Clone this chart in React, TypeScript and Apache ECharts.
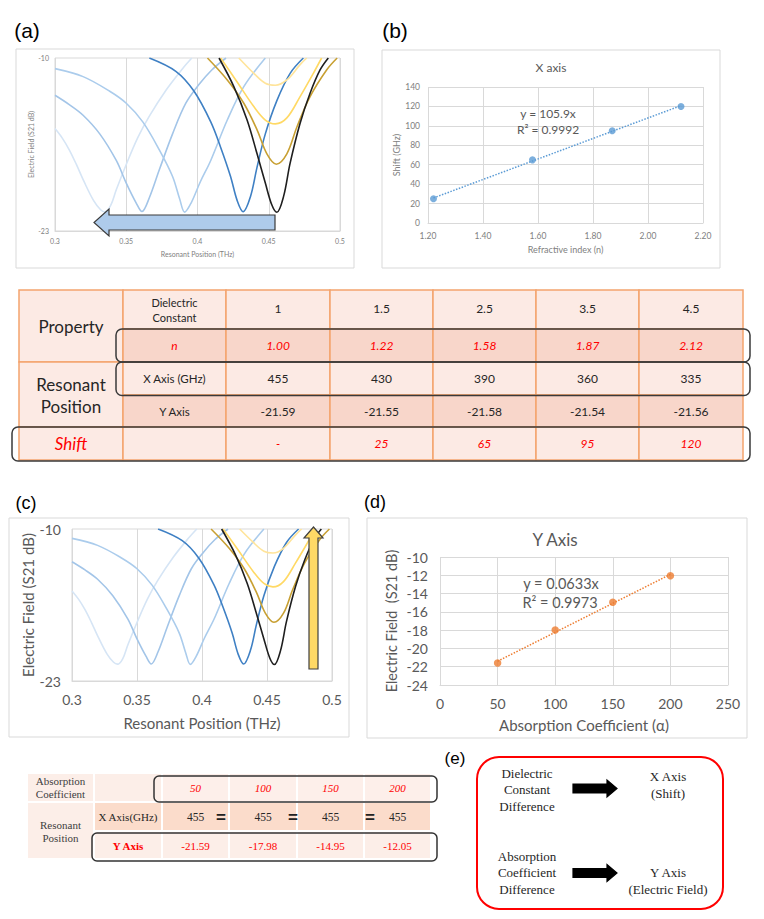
import React, { useEffect, useRef } from "react";
import * as echarts from "echarts";

// ---------- (a) / (c) resonance curves : [frequency THz, S21 dB] ----------
const curveL1 = [[0.300,-15.3],[0.305,-16.0],[0.310,-16.9],[0.315,-18.0],[0.320,-19.2],[0.327,-20.7],[0.332,-21.4],[0.335,-21.56],[0.339,-21.1],[0.343,-19.9],[0.350,-18.0],[0.358,-16.0],[0.366,-14.4],[0.378,-12.4],[0.3895,-10.8],[0.396,-10.0]];
const curveL2 = [[0.300,-12.8],[0.310,-13.5],[0.3197,-14.3],[0.3314,-15.7],[0.343,-17.7],[0.350,-19.4],[0.357,-20.9],[0.361,-21.54],[0.3662,-20.5],[0.3732,-18.4],[0.3825,-15.7],[0.3918,-13.4],[0.401,-12.0],[0.410,-10.9],[0.420,-10.0]];
const curveL3 = [[0.300,-10.8],[0.3197,-11.4],[0.3384,-12.5],[0.350,-13.4],[0.3616,-14.8],[0.3732,-16.9],[0.3825,-18.9],[0.3875,-20.6],[0.391,-21.58],[0.3955,-20.9],[0.402,-19.3],[0.4093,-17.7],[0.4209,-14.66],[0.4325,-12.15],[0.4476,-10.0]];
const curveD = [[0.3662,-10.0],[0.3848,-11.0],[0.3976,-12.5],[0.4093,-14.8],[0.4162,-16.7],[0.4232,-18.9],[0.4278,-20.7],[0.432,-21.55],[0.4372,-20.4],[0.4418,-18.2],[0.4476,-15.7],[0.4557,-13.2],[0.465,-11.15],[0.4743,-10.0]];
const curveK = [[0.4151,-10.0],[0.4255,-12.15],[0.4348,-14.66],[0.4418,-17.2],[0.4476,-19.4],[0.4522,-21.05],[0.4557,-21.59],[0.4604,-20.4],[0.465,-17.9],[0.472,-14.9],[0.479,-12.65],[0.486,-10.9],[0.4918,-10.0]];
const curveG1 = [[0.407,-10.0],[0.4209,-11.65],[0.4325,-13.4],[0.4418,-15.4],[0.4487,-17.2],[0.4553,-17.98],[0.4627,-17.2],[0.4697,-15.2],[0.479,-12.9],[0.4906,-10.9],[0.498,-10.0]];
const curveG2 = [[0.4162,-10.0],[0.4278,-11.8],[0.4395,-13.65],[0.4476,-14.66],[0.4546,-14.95],[0.4627,-14.5],[0.472,-12.9],[0.4813,-11.15],[0.4871,-10.0]];
const curveG3 = [[0.429,-10.0],[0.4395,-11.15],[0.4476,-11.9],[0.4546,-12.05],[0.4627,-11.65],[0.472,-10.5],[0.4766,-10.0]];

const curves = [
  { data: curveL1, color: "#D6E5F5" },
  { data: curveL2, color: "#A3C5E8" },
  { data: curveL3, color: "#ABCCEC" },
  { data: curveD, color: "#3F80C4" },
  { data: curveG3, color: "#FFE49A" },
  { data: curveG2, color: "#FFD965" },
  { data: curveG1, color: "#C8A033" },
  { data: curveK, color: "#1F1F1F" },
];

// ---------- main table / (b) ----------
const dielectricConstants = ["1", "1.5", "2.5", "3.5", "4.5"];
const refractiveIndex = [1.0, 1.22, 1.58, 1.87, 2.12];
const resonantXGHz = [455, 430, 390, 360, 335];
const resonantYdB = [-21.59, -21.55, -21.58, -21.54, -21.56];
const shiftGHz: (number | null)[] = [null, 25, 65, 95, 120];
const shiftTrend = [[1.22, 25.8], [2.12, 120.8]];

// ---------- bottom table / (d) ----------
const absorption = [50, 100, 150, 200];
const fieldDb = [-21.59, -17.98, -14.95, -12.05];
const fieldXGHz = [455, 455, 455, 455];
const fieldTrend = [[50, -21.4], [200, -11.9]];

const FONT = "Lato, 'Open Sans', sans-serif";
const SERIF = "'Liberation Serif', 'DejaVu Serif', serif";
const ARIAL = "'Liberation Sans', Arial, sans-serif";

type TO = { size?: number; fill?: string; family?: string; italic?: boolean; bold?: boolean; align?: string; lh?: number; z?: number };
function txt(x: number, y: number, text: string, o: TO = {}) {
  return {
    type: "text", x, y, z: o.z ?? 50,
    style: {
      text, fill: o.fill ?? "#262626", fontSize: o.size ?? 12, fontFamily: o.family ?? FONT,
      fontStyle: o.italic ? "italic" : "normal", fontWeight: o.bold ? "bold" : "normal",
      align: o.align ?? "center", verticalAlign: "middle", lineHeight: o.lh,
    },
  };
}
type RO = { fill?: string; stroke?: string; lw?: number; r?: number; z?: number };
function rect(x: number, y: number, w: number, h: number, o: RO = {}) {
  return {
    type: "rect", z: o.z ?? 10,
    shape: { x, y, width: w, height: h, r: o.r ?? 0 },
    style: { fill: o.fill ?? "none", stroke: o.stroke ?? "none", lineWidth: o.lw ?? 1 },
  };
}
function poly(points: number[][], fill: string, stroke: string, z = 100) {
  return { type: "polygon", z, shape: { points }, style: { fill, stroke, lineWidth: 1.2 } };
}

function buildGraphics() {
  const g: any[] = [];
  // panel labels
  g.push(txt(27, 30, "(a)", { size: 21, family: ARIAL, fill: "#000" }));
  g.push(txt(395, 30, "(b)", { size: 21, family: ARIAL, fill: "#000" }));
  g.push(txt(26, 503, "(c)", { size: 18, family: ARIAL, fill: "#000" }));
  g.push(txt(375, 502, "(d)", { size: 18, family: ARIAL, fill: "#000" }));
  g.push(txt(455, 758, "(e)", { size: 17, family: ARIAL, fill: "#000" }));
  // chart boxes
  g.push(rect(16, 49, 338, 219, { stroke: "#D9D9D9" }));
  g.push(rect(382, 50, 338, 218, { stroke: "#D9D9D9" }));
  g.push(rect(9, 518, 340, 219, { stroke: "#D9D9D9" }));
  g.push(rect(367, 518, 380, 220, { stroke: "#D9D9D9" }));
  // chart titles / trend annotations
  g.push(txt(551, 67, "X axis", { size: 12, fill: "#595959" }));
  g.push(txt(548, 113, "y = 105.9x", { size: 12, fill: "#595959" }));
  g.push(txt(548, 129, "R² = 0.9992", { size: 12, fill: "#595959" }));
  g.push(txt(555, 539, "Y Axis", { size: 17, fill: "#595959" }));
  g.push(txt(561, 583, "y = 0.0633x", { size: 14.5, fill: "#595959" }));
  g.push(txt(560, 602, "R² = 0.9973", { size: 14.5, fill: "#595959" }));
  // arrows
  g.push(poly([[275, 215], [109, 215], [109, 209], [94, 222.5], [109, 236], [109, 230], [275, 230]], "#AECBEB", "#3B3B3B"));
  g.push(poly([[309, 669], [309, 538], [304, 538], [313.5, 527], [323, 538], [318, 538], [318, 669]], "#FFD966", "#404040"));

  // ---- main table ----
  const colX = [19, 123, 226, 330, 433, 536, 639, 743];
  const rowY = [290, 329, 362, 395, 427, 460];
  const light = "#FCEAE4", dark = "#F8D6CA", border = "#F3A46E";
  g.push(rect(colX[0], rowY[0], colX[1] - colX[0], rowY[2] - rowY[0], { fill: light, stroke: border, lw: 1.5 }));
  g.push(rect(colX[0], rowY[2], colX[1] - colX[0], rowY[4] - rowY[2], { fill: light, stroke: border, lw: 1.5 }));
  g.push(rect(colX[0], rowY[4], colX[1] - colX[0], rowY[5] - rowY[4], { fill: light, stroke: border, lw: 1.5 }));
  for (let c = 1; c < 7; c++) {
    for (let rI = 0; rI < 5; rI++) {
      g.push(rect(colX[c], rowY[rI], colX[c + 1] - colX[c], rowY[rI + 1] - rowY[rI], {
        fill: rI === 1 || rI === 3 ? dark : light, stroke: border, lw: 1.5,
      }));
    }
  }
  const cx = (c: number) => (colX[c] + colX[c + 1]) / 2;
  const cy = (r: number) => (rowY[r] + rowY[r + 1]) / 2;
  const RED = "#FF0000";
  g.push(txt(cx(0), 326, "Property", { size: 17 }));
  g.push(txt(cx(0), 395, "Resonant\nPosition", { size: 17, lh: 22 }));
  g.push(txt(cx(0), cy(4), "Shift", { size: 17, italic: true, fill: RED }));
  g.push(txt(cx(1), 310, "Dielectric\nConstant", { size: 11, lh: 15 }));
  g.push(txt(cx(1), cy(1), "n", { size: 12, italic: true, fill: RED }));
  g.push(txt(cx(1), cy(2), "X Axis (GHz)", { size: 11.5 }));
  g.push(txt(cx(1), cy(3), "Y Axis", { size: 11.5 }));
  dielectricConstants.forEach((v, i) => {
    const c = i + 2;
    g.push(txt(cx(c), cy(0) - 1, v, { size: 12 }));
    g.push(txt(cx(c), cy(1), refractiveIndex[i].toFixed(2), { size: 12, italic: true, fill: RED }));
    g.push(txt(cx(c), cy(2), String(resonantXGHz[i]), { size: 12 }));
    g.push(txt(cx(c), cy(3), resonantYdB[i].toFixed(2), { size: 12 }));
    const s = shiftGHz[i];
    g.push(txt(cx(c), cy(4), s === null ? "-" : String(s), { size: 12, italic: true, fill: RED }));
  });
  g.push(rect(116, 329, 634, 33, { r: 6, stroke: "#3A3A3A", lw: 1.5, z: 20 }));
  g.push(rect(116, 362, 634, 33.5, { r: 6, stroke: "#3A3A3A", lw: 1.5, z: 20 }));
  g.push(rect(12, 427, 738, 34, { r: 6, stroke: "#3A3A3A", lw: 1.5, z: 20 }));

  // ---- bottom table ----
  const bx = [27, 94, 162, 229, 297, 364, 431];
  const br = [[774, 801], [803, 830], [832, 858]];
  const pLight = "#FCEEE8", pLight2 = "#FDEFEA", pDark = "#FBDCCB";
  const cell = (c0: number, c1: number, r0: number, r1: number, fill: string) =>
    g.push(rect(bx[c0] + 1, br[r0][0], bx[c1] - bx[c0] - 2, br[r1][1] - br[r0][0], { fill }));
  cell(0, 1, 0, 0, pLight);
  cell(1, 2, 0, 0, pLight);
  for (let c = 2; c < 6; c++) cell(c, c + 1, 0, 0, pLight2);
  cell(0, 1, 1, 2, pLight);
  for (let c = 1; c < 6; c++) { cell(c, c + 1, 1, 1, pDark); cell(c, c + 1, 2, 2, pLight); }
  const bcx = (c: number) => (bx[c] + bx[c + 1]) / 2;
  g.push(txt(bcx(0), 787.5, "Absorption\nCoefficient", { size: 11, lh: 13, family: SERIF, fill: "#404040" }));
  g.push(txt(bcx(0), 831, "Resonant\nPosition", { size: 11, lh: 13, family: SERIF, fill: "#404040" }));
  g.push(txt(bcx(1), 817, "X Axis(GHz)", { size: 11, family: SERIF }));
  g.push(txt(bcx(1), 846, "Y Axis", { size: 11, family: SERIF, fill: RED, bold: true }));
  absorption.forEach((a, i) => {
    const c = i + 2;
    g.push(txt(bcx(c), 788, String(a), { size: 11, family: SERIF, italic: true, fill: RED }));
    g.push(txt(bcx(c), 817, String(fieldXGHz[i]), { size: 11.5, family: SERIF }));
    g.push(txt(bcx(c), 846, fieldDb[i].toFixed(2), { size: 11, family: SERIF, fill: RED }));
  });
  [221, 293, 370].forEach((x) => g.push(txt(x, 817, "=", { size: 17, bold: true, fill: "#222", family: ARIAL })));
  g.push(rect(154, 776, 283, 26, { r: 5, stroke: "#333", lw: 1.5, z: 20 }));
  g.push(rect(92, 833, 345, 28, { r: 5, stroke: "#333", lw: 1.5, z: 20 }));

  // ---- (e) ----
  g.push(rect(477, 757, 246, 152, { r: 22, stroke: "#FF0000", lw: 2 }));
  g.push(txt(527, 789.5, "Dielectric\nConstant\nDifference", { size: 13, lh: 16.5, family: SERIF }));
  g.push(txt(668, 785, "X Axis\n(Shift)", { size: 13, lh: 16.5, family: SERIF }));
  g.push(txt(527, 872.5, "Absorption\nCoefficient\nDifference", { size: 13, lh: 16.5, family: SERIF }));
  g.push(txt(668, 881, "Y Axis\n(Electric Field)", { size: 13, lh: 16.5, family: SERIF }));
  g.push(poly([[573, 784], [607, 784], [607, 780], [617, 788.5], [607, 797], [607, 793], [573, 793]], "#000", "#000"));
  g.push(poly([[573, 868.5], [607, 868.5], [607, 864.5], [617, 873], [607, 881.5], [607, 877.5], [573, 877.5]], "#000", "#000"));
  return g;
}

function curveAxes(grid: number, fs: number, titleFs: number, color: string, labelMargin: number, gapX: number, gapY: number) {
  const xAxis = {
    type: "value", gridIndex: grid, min: 0.3, max: 0.5, interval: 0.05,
    axisLine: { show: true, lineStyle: { color: "#D9D9D9" } }, axisTick: { show: false },
    axisLabel: { fontSize: fs, color, margin: labelMargin, fontFamily: FONT },
    splitLine: { show: true, lineStyle: { color: "#D9D9D9" } },
    name: "Resonant Position (THz)", nameLocation: "middle", nameGap: gapX,
    nameTextStyle: { fontSize: titleFs, color, fontFamily: FONT },
  };
  const yAxis = {
    type: "value", gridIndex: grid, min: -23, max: -10,
    axisLine: { show: false }, axisTick: { show: false, customValues: [-23, -10] },
    axisLabel: {
      fontSize: fs, color, margin: labelMargin, fontFamily: FONT, customValues: [-23, -10],
      formatter: (v: number) => (v === -10 || v === -23 ? String(v) : ""),
    },
    splitLine: { show: false },
    name: "Electric Field (S21 dB)", nameLocation: "middle", nameGap: gapY,
    nameTextStyle: { fontSize: titleFs, color, fontFamily: FONT },
  };
  return { xAxis, yAxis };
}

export default function App() {
  const ref = useRef<HTMLDivElement>(null);
  useEffect(() => {
    if (!ref.current) return;
    const chart = echarts.init(ref.current, undefined, { renderer: "svg" });
    const a = curveAxes(0, 7, 7, "#808080", 6, 19, 19);
    const c = curveAxes(2, 14, 15, "#595959", 11, 34, 34);
    const gridStyle = { show: true, borderColor: "#D9D9D9", borderWidth: 1, backgroundColor: "transparent" };

    const series: any[] = [];
    [0, 2].forEach((ax) => {
      curves.forEach((cv) => {
        series.push({
          type: "line", xAxisIndex: ax, yAxisIndex: ax, data: cv.data, smooth: 0.35,
          symbol: "none", showSymbol: false, clip: true,
          lineStyle: { color: cv.color, width: 1.6 }, itemStyle: { color: cv.color },
        });
      });
    });
    series.push({
      type: "line", xAxisIndex: 1, yAxisIndex: 1, data: shiftTrend, symbol: "none",
      lineStyle: { color: "#5B9BD5", width: 1.5, type: "dotted" },
    });
    series.push({
      type: "scatter", xAxisIndex: 1, yAxisIndex: 1, symbolSize: 7,
      data: refractiveIndex.map((n, i) => [n, shiftGHz[i]]).filter((p) => p[1] !== null),
      itemStyle: { color: "#5B9BD5" },
    });
    series.push({
      type: "line", xAxisIndex: 3, yAxisIndex: 3, data: fieldTrend, symbol: "none",
      lineStyle: { color: "#ED7D31", width: 1.5, type: "dotted" },
    });
    series.push({
      type: "scatter", xAxisIndex: 3, yAxisIndex: 3, symbolSize: 7.5,
      data: absorption.map((v, i) => [v, fieldDb[i]]),
      itemStyle: { color: "#ED7D31" },
    });

    chart.setOption({
      animation: false,
      textStyle: { fontFamily: FONT },
      grid: [
        { left: 55, top: 58, width: 285, height: 173, ...gridStyle },
        { left: 428, top: 87, width: 275, height: 136, show: false },
        { left: 72, top: 529, width: 260, height: 152, ...gridStyle },
        { left: 440, top: 557, width: 288, height: 128, show: false },
      ],
      xAxis: [
        a.xAxis,
        {
          type: "value", gridIndex: 1, min: 1.2, max: 2.2, interval: 0.2,
          axisLine: { lineStyle: { color: "#D9D9D9" } }, axisTick: { show: false },
          axisLabel: { fontSize: 8.5, color: "#808080", margin: 8, formatter: (v: number) => v.toFixed(2) },
          splitLine: { show: true, lineStyle: { color: "#D9D9D9" } },
          name: "Refractive index (n)", nameLocation: "middle", nameGap: 22,
          nameTextStyle: { fontSize: 9, color: "#808080" },
        },
        c.xAxis,
        {
          type: "value", gridIndex: 3, min: 0, max: 250, interval: 50,
          axisLine: { lineStyle: { color: "#D9D9D9" } }, axisTick: { show: false },
          axisLabel: { fontSize: 14, color: "#595959", margin: 11 },
          splitLine: { show: true, lineStyle: { color: "#D9D9D9" } },
          name: "Absorption Coefficient (α)", nameLocation: "middle", nameGap: 32,
          nameTextStyle: { fontSize: 15, color: "#595959" },
        },
      ],
      yAxis: [
        a.yAxis,
        {
          type: "value", gridIndex: 1, min: 0, max: 140, interval: 20,
          axisLine: { show: false }, axisTick: { show: false },
          axisLabel: { fontSize: 8.5, color: "#808080", margin: 8 },
          splitLine: { show: true, lineStyle: { color: "#D9D9D9" } },
          name: "Shift (GHz)", nameLocation: "middle", nameGap: 24,
          nameTextStyle: { fontSize: 9, color: "#808080" },
        },
        c.yAxis,
        {
          type: "value", gridIndex: 3, min: -24, max: -10, interval: 2,
          axisLine: { show: false }, axisTick: { show: false },
          axisLabel: { fontSize: 14, color: "#595959", margin: 12 },
          splitLine: { show: true, lineStyle: { color: "#D9D9D9" } },
          name: "Electric Field  (S21 dB)", nameLocation: "middle", nameGap: 41,
          nameTextStyle: { fontSize: 14.5, color: "#595959" },
        },
      ],
      series,
      graphic: { elements: buildGraphics() },
    });
    return () => chart.dispose();
  }, []);
  return (
    <div
      ref={ref}
      style={{ position: "fixed", left: 0, top: 0, width: 764, height: 919, background: "#fff" }}
    />
  );
}
